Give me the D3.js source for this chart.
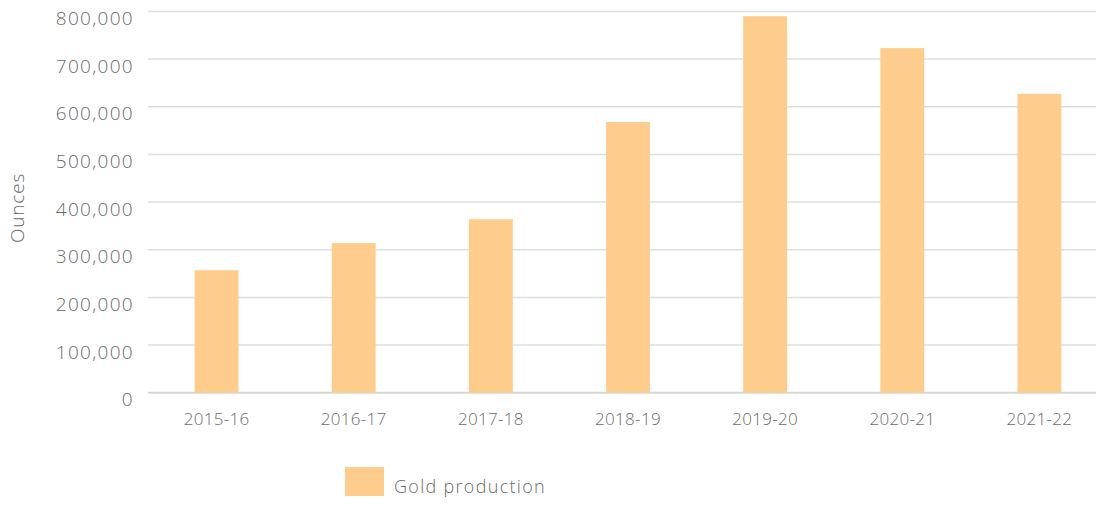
<!DOCTYPE html>
<html><head><meta charset="utf-8">
<script src="https://cdn.jsdelivr.net/npm/d3@7"></script>
<style>
body{margin:0;background:#fff;}
text{font-family:"Open Sans",Roboto,sans-serif;font-weight:300;fill:#6b6b6b;}
</style></head>
<body><svg id="c" width="1096" height="505"></svg>
<script>
const categories = ["2015-16","2016-17","2017-18","2018-19","2019-20","2020-21","2021-22"];
const goldProduction = [257000,314000,364000,568000,790000,723000,627000];
const yTicks = [0,100000,200000,300000,400000,500000,600000,700000,800000];
const seriesName = "Gold production";
const yTitle = "Ounces";

(function(){
const svg = d3.select("#c");
const pLeft = 148, pRight = 1108, pTop = 11.4, pBottom = 392.7;
const x = d3.scaleBand().domain(categories).range([pLeft, pRight]).paddingInner(0.68).paddingOuter(0.34);
const y = d3.scaleLinear().domain([0, 800000]).range([pBottom, pTop]);
const fmt = d3.format(",");

svg.append("g").selectAll("line").data(yTicks).join("line")
  .attr("x1", pLeft).attr("x2", 1096)
  .attr("y1", d => y(d)).attr("y2", d => y(d))
  .attr("stroke", d => d === 0 ? "#d6d6d0" : "#dedede").attr("stroke-width", d => d === 0 ? 2 : 1.5);

svg.append("g").selectAll("text").data(yTicks).join("text")
  .attr("x", 134).attr("y", d => y(d) + 7).attr("dy", "0.35em")
  .attr("text-anchor", "end").style("font-size", "19px").style("letter-spacing", "1.3px")
  .text(d => fmt(d));

svg.append("g").selectAll("rect").data(goldProduction).join("rect")
  .attr("x", (d, i) => x(categories[i])).attr("width", x.bandwidth())
  .attr("y", d => y(d)).attr("height", d => pBottom - y(d))
  .attr("fill", "#fecd8e");

svg.append("g").selectAll("text").data(categories).join("text")
  .attr("x", d => x(d) + x.bandwidth() / 2).attr("y", 419).attr("dy", "0.35em")
  .attr("text-anchor", "middle").style("font-size", "17px").style("letter-spacing", "0.3px")
  .text(d => d);

svg.append("text").attr("transform", "translate(17,208) rotate(-90)")
  .attr("text-anchor", "middle").attr("dy", "0.35em").style("font-size", "19px").style("letter-spacing", "0.8px")
  .text(yTitle);

svg.append("rect").attr("x", 345).attr("y", 467).attr("width", 39).attr("height", 29).attr("fill", "#fecd8e");
svg.append("text").attr("x", 394).attr("y", 487).attr("dy", "0.35em").style("font-size", "18px").style("letter-spacing", "1.3px").text(seriesName);
})();
</script></body></html>
